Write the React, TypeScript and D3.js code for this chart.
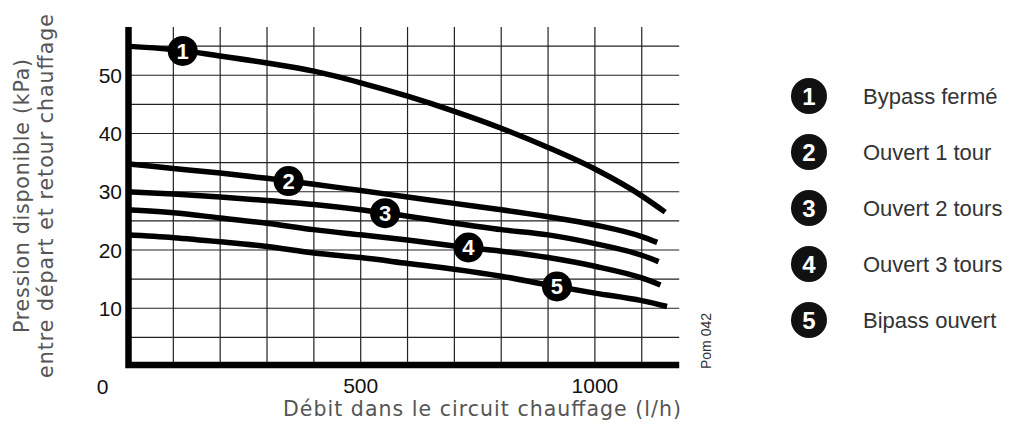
import { useEffect, useRef } from "react";
import * as d3 from "d3";

// flow (l/h) sample points, shared by all curves
const flow = [0, 100, 200, 300, 400, 500, 600, 700, 800, 900, 1000, 1100];

// available pressure (kPa) for each bypass setting
const bypassFerme = [55, 54.4, 53.3, 52.1, 50.7, 48.7, 46.4, 43.8, 40.9, 37.6, 33.9, 29.3];
const ouvert1 = [34.8, 34.0, 33.2, 32.3, 31.3, 30.2, 29.1, 28.0, 26.9, 25.7, 24.3, 22.3];
const ouvert2 = [30.0, 29.6, 29.1, 28.5, 27.8, 26.9, 25.8, 24.6, 23.5, 22.6, 21.1, 19.1];
const ouvert3 = [26.9, 26.4, 25.5, 24.6, 23.5, 22.6, 21.7, 20.7, 19.8, 18.7, 17.2, 15.2];
const bipassOuvert = [22.6, 22.1, 21.4, 20.6, 19.5, 18.7, 17.7, 16.7, 15.5, 14.0, 12.6, 11.3];

// last point of each curve (flow, pressure)
const curveEnds = [
  [1150, 26.5],
  [1133, 21.3],
  [1136, 18.0],
  [1140, 14.0],
  [1154, 10.3],
];

// where the numbered marker sits on each curve (flow)
const markerFlow = [120, 346, 552, 730, 919];

const legendLabels = [
  "Bypass fermé",
  "Ouvert 1 tour",
  "Ouvert 2 tours",
  "Ouvert 3 tours",
  "Bipass ouvert",
];

const xTicks = [500, 1000];
const yTicks = [10, 20, 30, 40, 50];
const xGrid = [100, 200, 300, 400, 500, 600, 700, 800, 900, 1000, 1100];
const yGrid = [5, 10, 15, 20, 25, 30, 35, 40, 45, 50, 55];

export default function App() {
  const ref = useRef(null);

  useEffect(() => {
    const svg = d3.select(ref.current);
    svg.selectAll("*").remove();

    const x = d3.scaleLinear().domain([0, 1000]).range([126.5, 594.9]);
    const y = d3.scaleLinear().domain([0, 50]).range([366.5, 75.25]);
    const xMax = 1180;
    const yMax = 58.3;

    const series = [bypassFerme, ouvert1, ouvert2, ouvert3, bipassOuvert].map((vals, i) => {
      const pts = flow.map((f, j) => [f, vals[j]]);
      pts.push(curveEnds[i]);
      return pts;
    });

    // grid
    const grid = svg.append("g").attr("stroke", "#222").attr("stroke-width", 1.2);
    grid
      .selectAll(".v")
      .data(xGrid)
      .enter()
      .append("line")
      .attr("x1", (d) => x(d))
      .attr("x2", (d) => x(d))
      .attr("y1", y(0))
      .attr("y2", y(yMax));
    grid
      .selectAll(".h")
      .data(yGrid)
      .enter()
      .append("line")
      .attr("x1", x(0))
      .attr("x2", x(xMax))
      .attr("y1", (d) => y(d))
      .attr("y2", (d) => y(d));

    // thick axes
    svg
      .append("path")
      .attr("d", `M${x(0) + 2},${y(yMax)} V${y(0) - 1.5} H${x(xMax)}`)
      .attr("fill", "none")
      .attr("stroke", "#000")
      .attr("stroke-width", 6.5);

    // curves
    const line = d3
      .line()
      .x((d) => x(d[0]))
      .y((d) => y(d[1]))
      .curve(d3.curveMonotoneX);

    svg
      .selectAll(".curve")
      .data(series)
      .enter()
      .append("path")
      .attr("d", (d) => line(d))
      .attr("fill", "none")
      .attr("stroke", "#000")
      .attr("stroke-width", 5.5);

    // numbered markers on curves
    series.forEach((pts, i) => {
      const f = markerFlow[i];
      const k = d3.bisector((d) => d[0]).right(pts, f) - 1;
      const a = pts[k];
      const b = pts[k + 1];
      const p = a[1] + ((b[1] - a[1]) * (f - a[0])) / (b[0] - a[0]);
      const g = svg.append("g").attr("transform", `translate(${x(f)},${y(p)})`);
      g.append("circle").attr("r", 15).attr("fill", "#000");
      g.append("text")
        .attr("text-anchor", "middle")
        .attr("dy", "0.36em")
        .attr("fill", "#fff")
        .style("font-family", "Liberation Sans, Arial, sans-serif")
        .style("font-weight", "bold")
        .style("font-size", "22px")
        .text(i + 1);
    });

    const tickFont = "Liberation Sans, Arial, sans-serif";

    // y tick labels
    svg
      .selectAll(".ytick")
      .data(yTicks)
      .enter()
      .append("text")
      .attr("x", 122)
      .attr("y", (d) => y(d))
      .attr("dy", "0.36em")
      .attr("text-anchor", "end")
      .style("font-family", tickFont)
      .style("font-size", "21px")
      .attr("fill", "#111")
      .text((d) => d);

    // x tick labels
    svg
      .selectAll(".xtick")
      .data(xTicks)
      .enter()
      .append("text")
      .attr("x", (d) => x(d))
      .attr("y", 393)
      .attr("text-anchor", "middle")
      .style("font-family", tickFont)
      .style("font-size", "21px")
      .attr("fill", "#111")
      .text((d) => d);

    svg
      .append("text")
      .attr("x", 102.5)
      .attr("y", 394)
      .attr("text-anchor", "middle")
      .style("font-family", tickFont)
      .style("font-size", "21px")
      .attr("fill", "#111")
      .text("0");

    // axis titles (wide, light geometric face in the original)
    const titleFont = "DejaVu Sans, Verdana, sans-serif";
    svg
      .append("text")
      .attr("x", 482)
      .attr("y", 416)
      .attr("text-anchor", "middle")
      .attr("textLength", 398)
      .attr("lengthAdjust", "spacing")
      .style("font-family", titleFont)
      .style("font-size", "20.5px")
      .attr("fill", "#555")
      .text("Débit dans le circuit chauffage (l/h)");

    svg
      .append("text")
      .attr("transform", "translate(29,196) rotate(-90)")
      .attr("text-anchor", "middle")
      .attr("textLength", 274)
      .attr("lengthAdjust", "spacing")
      .style("font-family", titleFont)
      .style("font-size", "20.5px")
      .attr("fill", "#555")
      .text("Pression disponible (kPa)");

    svg
      .append("text")
      .attr("transform", "translate(53,196) rotate(-90)")
      .attr("text-anchor", "middle")
      .attr("textLength", 364)
      .attr("lengthAdjust", "spacing")
      .style("font-family", titleFont)
      .style("font-size", "20.5px")
      .attr("fill", "#555")
      .text("entre départ et retour chauffage");

    // reference code
    svg
      .append("text")
      .attr("transform", "translate(711,341) rotate(-90)")
      .attr("text-anchor", "middle")
      .style("font-family", tickFont)
      .style("font-size", "14px")
      .attr("fill", "#333")
      .text("Pom 042");

    // legend
    const legend = svg
      .selectAll(".legend")
      .data(legendLabels)
      .enter()
      .append("g")
      .attr("transform", (_, i) => `translate(809,${96 + i * 56})`);
    legend.append("circle").attr("r", 18).attr("fill", "#111");
    legend
      .append("text")
      .attr("text-anchor", "middle")
      .attr("dy", "0.36em")
      .attr("fill", "#fff")
      .style("font-family", tickFont)
      .style("font-weight", "bold")
      .style("font-size", "24px")
      .text((_, i) => i + 1);
    legend
      .append("text")
      .attr("x", 54)
      .attr("dy", "0.36em")
      .attr("fill", "#333")
      .style("font-family", tickFont)
      .style("font-size", "22px")
      .text((d) => d);
  }, []);

  return (
    <svg
      ref={ref}
      width={1011}
      height={430}
      style={{ position: "absolute", left: 0, top: 0, background: "#fff" }}
    />
  );
}
